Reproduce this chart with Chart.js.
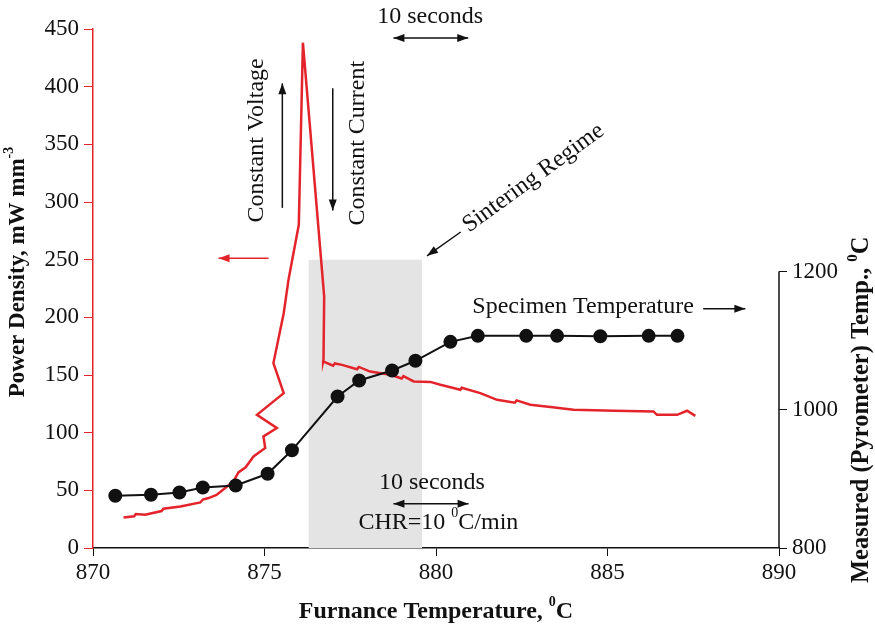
<!DOCTYPE html>
<html>
<head>
<meta charset="utf-8">
<script src="https://cdn.jsdelivr.net/npm/chart.js@4/dist/chart.umd.min.js"></script>
<style>
  html, body { margin: 0; padding: 0; background: #fff; }
  canvas { display: block; }
</style>
</head>
<body>
<canvas id="chart" width="875" height="634"></canvas>
<script>
// furnace temperature (deg C) vs power density (mW mm^-3), left axis
const powerX = [870.89, 871.2, 871.25, 871.52, 872.0, 872.05, 872.55, 873.13, 873.2, 873.37, 873.6, 873.91, 874.1, 874.24, 874.45, 874.68,
  875.02, 874.97, 875.36, 874.78, 875.56, 875.26, 875.56, 875.70, 876.00, 876.12, 876.74, 876.72, 876.71,
  877.0, 877.05, 877.26, 877.7, 877.75, 878.08, 878.67, 879.0, 879.05, 879.35, 879.83, 880.13, 880.71, 880.75,
  881.29, 881.78, 882.3, 882.35, 882.75, 883.4, 884.01, 885.2, 886.34, 886.44, 887.03, 887.32, 887.56];
const powerY = [26.5, 27.5, 29.5, 28.9, 32, 34, 36, 39.5, 42, 43.3, 46, 53.4, 58, 65.5, 70, 79.4,
  86.7, 96.7, 104, 115.5, 134.3, 160.3, 203.6, 232.7, 280.2, 438.1, 218, 163, 161.7,
  158, 160, 158.8, 155, 157, 153, 150.2, 147, 149, 144.4, 144, 141.5, 137.2, 139,
  134.3, 128.5, 126, 128, 124.2, 122, 119.8, 119, 118.4, 115.5, 115.5, 119, 114.6];

// specimen (pyrometer) temperature, right axis
const specimenX = [870.65, 871.69, 872.52, 873.20, 874.16, 875.09, 875.80, 877.13, 877.76, 878.72, 879.40, 880.42, 881.22, 882.63, 883.53, 884.79, 886.20, 887.04];
const specimenY = [875.6, 877.1, 880.4, 887.6, 890.5, 907.4, 941.4, 1019.2, 1042.4, 1056.8, 1070.9, 1098.3, 1107, 1107, 1107, 1106.3, 1107, 1107];

// sintering regime band
const sinterX = [876.28, 879.60];
const sinterTop = 250;

const xTicks = [870, 875, 880, 885, 890];
const rightTicks = [800, 1000, 1200];

const RED = '#e3242b';
const SERIF = '"Liberation Serif", "DejaVu Serif", serif';

function toPts(xs, ys) { return xs.map((v, i) => ({ x: v, y: ys[i] })); }

function arrow(ctx, x1, y1, x2, y2, color, both) {
  ctx.strokeStyle = color; ctx.fillStyle = color; ctx.lineWidth = 1.5;
  ctx.beginPath(); ctx.moveTo(x1, y1); ctx.lineTo(x2, y2); ctx.stroke();
  const head = (xa, ya, xb, yb) => {
    const a = Math.atan2(yb - ya, xb - xa);
    ctx.beginPath();
    ctx.moveTo(xb, yb);
    ctx.lineTo(xb - 11 * Math.cos(a) + 4 * Math.sin(a), yb - 11 * Math.sin(a) - 4 * Math.cos(a));
    ctx.lineTo(xb - 11 * Math.cos(a) - 4 * Math.sin(a), yb - 11 * Math.sin(a) + 4 * Math.cos(a));
    ctx.closePath(); ctx.fill();
  };
  head(x1, y1, x2, y2);
  if (both) head(x2, y2, x1, y1);
}

// text with superscript parts, centred on (0,0) of current transform
function partsText(ctx, parts, size, bold) {
  const fnt = p => `${bold ? 'bold ' : ''}${p.sup ? Math.round(size * 0.6) : size}px ${SERIF}`;
  const w = parts.map(p => { ctx.font = fnt(p); return ctx.measureText(p.t).width; });
  let cx = -w.reduce((a, b) => a + b, 0) / 2;
  ctx.textBaseline = 'middle'; ctx.textAlign = 'left'; ctx.fillStyle = '#111';
  parts.forEach((p, i) => {
    ctx.font = fnt(p);
    ctx.fillText(p.t, cx, p.sup ? -size * 0.38 : 0);
    cx += w[i];
  });
}

const notes = {
  id: 'notes',
  afterDatasetsDraw(chart) {
    const { ctx, chartArea } = chart;
    const { x, y, y2 } = chart.scales;
    const px = v => x.getPixelForValue(v);
    const py = v => y.getPixelForValue(v);
    ctx.save();

    // right axis line only spans 800..1200
    ctx.strokeStyle = '#111'; ctx.lineWidth = 1.5;
    ctx.beginPath();
    ctx.moveTo(chartArea.right, y2.getPixelForValue(800));
    ctx.lineTo(chartArea.right, y2.getPixelForValue(1200));
    ctx.stroke();

    const plain = (t, xv, yv, size) => {
      ctx.save(); ctx.translate(px(xv), py(yv)); partsText(ctx, [{ t }], size, false); ctx.restore();
    };
    const rotated = (parts, cx, cy, ang, size, bold) => {
      ctx.save(); ctx.translate(cx, cy); ctx.rotate(ang); partsText(ctx, parts, size, bold); ctx.restore();
    };

    // top 10 seconds
    plain('10 seconds', 879.83, 460.3, 24);
    arrow(ctx, px(878.76), py(442.2), px(880.94), py(442.2), '#111', true);

    // constant voltage / current
    rotated([{ t: 'Constant Voltage' }], px(874.78), py(353.4), -Math.PI / 2, 24, false);
    arrow(ctx, px(875.52), py(294.9), px(875.52), py(402.9), '#111', false);
    rotated([{ t: 'Constant Current' }], px(877.71), py(351), -Math.PI / 2, 24, false);
    arrow(ctx, px(876.99), py(398.6), px(876.99), py(292.6), '#111', false);

    // sintering regime
    rotated([{ t: 'Sintering Regime' }], px(882.84), py(320.8), -36 * Math.PI / 180, 24, false);
    arrow(ctx, px(880.72), py(274), px(879.74), py(253.3), '#111', false);

    // red axis pointer
    arrow(ctx, px(875.12), py(251.3), px(873.66), py(251.3), RED, false);

    // specimen temperature
    plain('Specimen Temperature', 884.29, 208.8, 24);
    arrow(ctx, px(887.79), py(207.4), px(889.02), py(207.4), '#111', false);

    // bottom 10 seconds + CHR
    plain('10 seconds', 879.88, 56.3, 24);
    arrow(ctx, px(878.76), py(38.4), px(880.95), py(38.4), '#111', true);
    ctx.save(); ctx.translate(px(880.07), py(21.9));
    partsText(ctx, [{ t: 'CHR=10 ' }, { t: '0', sup: true }, { t: 'C/min' }], 24, false);
    ctx.restore();

    // axis titles
    rotated([{ t: 'Power Density, mW mm' }, { t: '-3', sup: true }], 18, 272, -Math.PI / 2, 23, true);
    rotated([{ t: 'Measured (Pyrometer) Temp., ' }, { t: '0', sup: true }, { t: 'C' }], 862,
      y2.getPixelForValue(1000), -Math.PI / 2, 24.5, true);
    ctx.save(); ctx.translate((chartArea.left + chartArea.right) / 2, 612);
    partsText(ctx, [{ t: 'Furnance Temperature, ' }, { t: '0', sup: true }, { t: 'C' }], 24, true);
    ctx.restore();

    ctx.restore();
  }
};

new Chart(document.getElementById('chart'), {
  type: 'scatter',
  data: {
    datasets: [
      {
        label: 'Specimen Temperature',
        data: toPts(specimenX, specimenY),
        yAxisID: 'y2',
        showLine: true,
        borderColor: '#111',
        backgroundColor: '#111',
        borderWidth: 2,
        pointRadius: 6,
        pointHoverRadius: 6,
        tension: 0,
        order: 1
      },
      {
        label: 'Power Density',
        data: toPts(powerX, powerY),
        yAxisID: 'y',
        showLine: true,
        borderColor: RED,
        borderWidth: 2.5,
        pointRadius: 0,
        tension: 0,
        order: 2
      },
      {
        label: 'Sintering Regime',
        data: toPts(sinterX, [sinterTop, sinterTop]),
        yAxisID: 'y',
        showLine: true,
        borderWidth: 0,
        borderColor: 'rgba(0,0,0,0)',
        backgroundColor: '#e4e4e4',
        fill: 'origin',
        pointRadius: 0,
        order: 3
      }
    ]
  },
  options: {
    responsive: false,
    animation: false,
    layout: { padding: { top: 29, left: 0, right: 0, bottom: 0 } },
    plugins: { legend: { display: false }, tooltip: { enabled: false } },
    scales: {
      x: {
        type: 'linear',
        min: 870, max: 890,
        afterBuildTicks: s => { s.ticks = xTicks.map(v => ({ value: v })); },
        afterFit: s => { s.height = 86; },
        ticks: { color: '#111', font: { family: SERIF, size: 23 }, padding: 3, callback: v => String(v) },
        grid: { drawOnChartArea: false, color: '#111', tickLength: 8 },
        border: { color: '#111', width: 1.5 }
      },
      y: {
        position: 'left',
        min: 0, max: 450,
        ticks: { stepSize: 50, color: '#111', font: { family: SERIF, size: 23 }, padding: 5, callback: v => String(v) },
        afterFit: s => { s.width = 93; },
        grid: { drawOnChartArea: false, color: RED, tickLength: 9 },
        border: { color: RED, width: 1.5 }
      },
      y2: {
        position: 'right',
        min: 800, max: 1551,
        afterBuildTicks: s => { s.ticks = rightTicks.map(v => ({ value: v })); },
        afterFit: s => { s.width = 96; },
        ticks: { color: '#111', font: { family: SERIF, size: 23 }, padding: 5, callback: v => String(v) },
        grid: { drawOnChartArea: false, color: '#111', tickLength: 8 },
        border: { display: false }
      }
    }
  },
  plugins: [notes]
});
</script>
</body>
</html>
